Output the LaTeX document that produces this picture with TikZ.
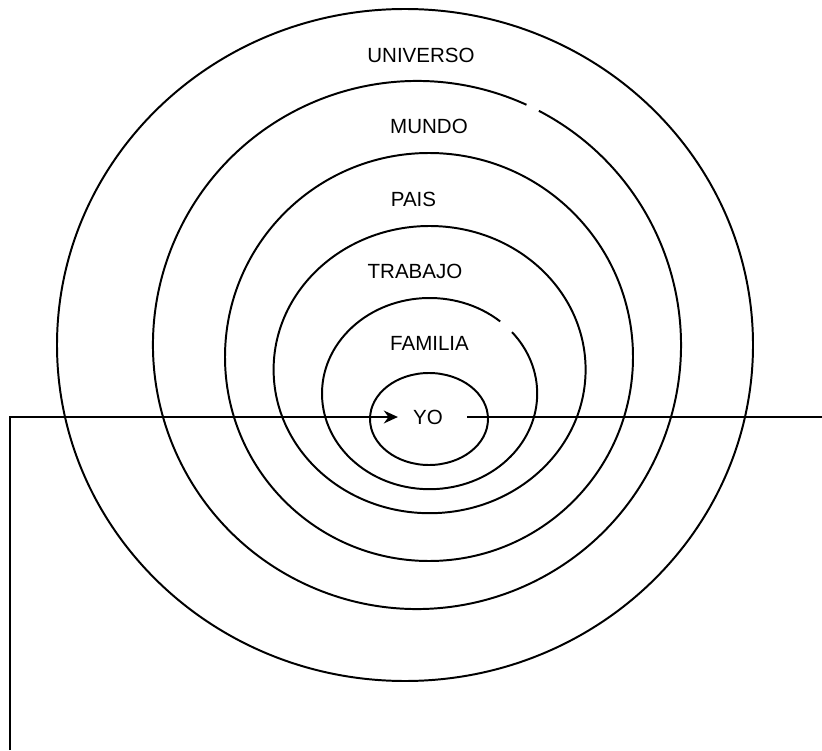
\documentclass[tikz,border=0pt]{standalone}
\usepackage{fontspec}
\setmainfont{Liberation Sans}
\usepackage{xcolor}
\usetikzlibrary{
  arrows.meta,
  positioning
}

\begin{document}
\begin{tikzpicture}[
    ring/.style={draw=black, line width=1.4pt},
    wire/.style={draw=black, line width=1.4pt},
    ringtext/.style={font=\fontsize{14.6}{17}\selectfont, inner sep=0pt}
  ]

  \useasboundingbox (0, 0) rectangle (20.55, 18.75);

  % the nested rings, from outside in
  \draw[ring] (10.125, 10.125) ellipse [x radius=8.7, y radius=8.4];
  % mundo ring, with a small break at the upper right
  \draw[ring] (10.425, 10.125) ++(65.5:6.6) arc[start angle=65.5, end angle=422.5, radius=6.6];
  \draw[ring] (10.725, 9.825) circle (5.1);
  \draw[ring] (10.74, 9.51) ellipse [x radius=3.9, y radius=3.59];
  % familia ring, also broken at the upper right
  \draw[ring] (10.74, 8.91) ++(49:2.69 and 2.39)
    arc[start angle=49, end angle=400, x radius=2.69, y radius=2.39];
  \draw[ring] (10.725, 8.275) ellipse [x radius=1.475, y radius=1.15];

  % ring labels
  \node[ringtext] (universo) at (10.525, 17.375) {UNIVERSO};
  \node[ringtext] (mundo) at (10.725, 15.5875) {MUNDO};
  \node[ringtext] (pais) at (10.3375, 13.775) {PAIS};
  \node[ringtext] (trabajo) at (10.375, 11.975) {TRABAJO};
  \node[ringtext] (familia) at (10.7375, 10.175) {FAMILIA};
  \node[ringtext, inner xsep=0.375cm] (yo) at (10.7, 8.325) {YO};

  % the line running in and out of the centre
  \coordinate (start) at (0.25, 0);
  \coordinate (rightend) at (20.55, 8.325);
  \draw[wire, -{Stealth[length=3.5mm, width=3.2mm]}] (start) |- (yo.west);
  \draw[wire, shorten <=0.225cm] (yo.east) -- (rightend);

\end{tikzpicture}
\end{document}
